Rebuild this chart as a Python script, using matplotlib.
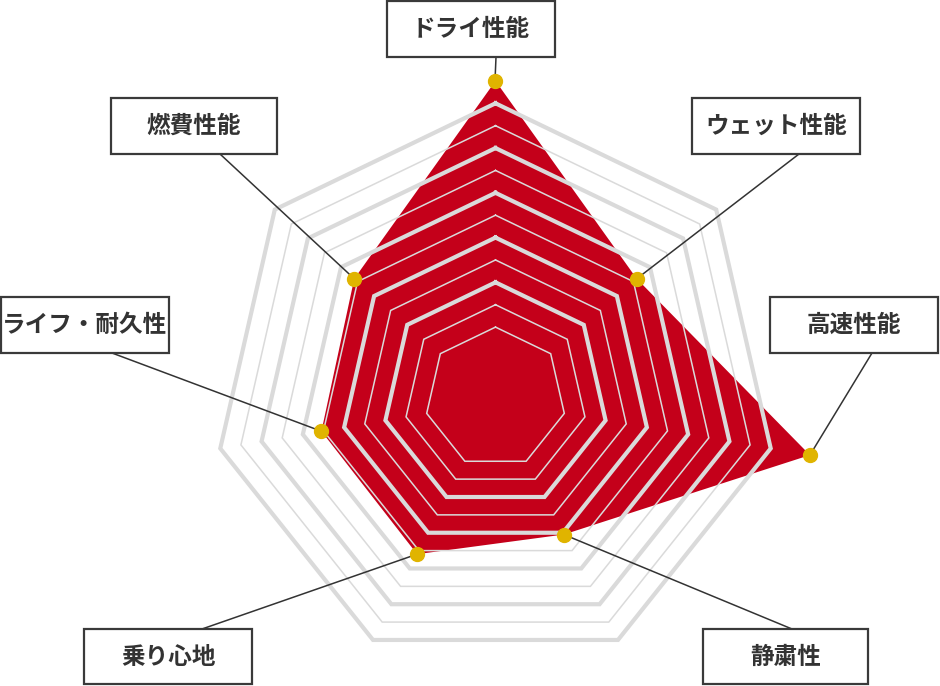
import numpy as np
import matplotlib
matplotlib.use("Agg")
import matplotlib.pyplot as plt
from matplotlib.patches import Rectangle

# Dati (in senso orario partendo dall'alto), livelli 0-10 della griglia
labels = ["ドライ性能", "ウェット性能", "高速性能", "静粛性", "乗り心地", "ライフ・耐久性", "燃費性能"]
values = [11.0, 5.2, 11.9, 4.1, 5.2, 5.1, 5.2]

# Livelli della griglia (dall'interno verso l'esterno) e quali sono spessi
rings = [0, 1, 2, 3, 4, 5, 6, 7, 8, 9, 10]
ring_thick = [False, False, True, False, True, False, True, False, True, False, True]

# Riquadri delle etichette (x0, y0, x1, y1) e punto di attacco della linea, in pixel
boxes = [(387, 1, 555, 57), (692, 98, 860, 154), (770, 297, 938, 353),
         (703, 629, 868, 684), (84, 629, 252, 684), (1, 297, 169, 353),
         (111, 98, 277, 154)]
anchors = [(495.5, 57), (799, 154), (872, 353), (792, 629),
           (202, 629), (112, 353), (220, 154)]

W, H = 940, 686
fig = plt.figure(figsize=(W / 100, H / 100), dpi=100)

# Geometria: eptagono esterno di raggio 1, centro scalato (P) un po' sotto
cx, cy = 495.5, 401.7   # pixel del centro P
scale = 282.3           # pixel per unita'
off = 0.057             # spostamento del centro dell'eptagono sopra P
base, step = 0.25, 0.075  # frazione per il livello 0 e per ogni livello

ax = fig.add_axes([0, 0, 1, 1], zorder=1)
ax.set_xlim(-cx / scale, (W - cx) / scale)
ax.set_ylim(-(H - cy) / scale, cy / scale)
ax.set_axis_off()

n = len(labels)
theta = np.linspace(0, 2 * np.pi, n, endpoint=False)
vx = np.sin(theta)
vy = np.cos(theta) + off


def radar_xy(levels):
    f = base + step * np.asarray(levels, dtype=float)
    x, y = f * vx, f * vy
    return np.append(x, x[0]), np.append(y, y[0])


px, py = radar_xy(values)
ax.fill(px, py, color="#c4001a", lw=0, zorder=2)

for lev, thick in zip(rings, ring_thick):
    rx, ry = radar_xy([lev] * n)
    ax.plot(rx, ry, color="#dadada", lw=3.0 if thick else 1.1,
            zorder=3, solid_joinstyle="miter")

# Assi in pixel per riquadri e testi
ov = fig.add_axes([0, 0, 1, 1], zorder=2)
ov.set_xlim(0, W)
ov.set_ylim(H, 0)
ov.set_axis_off()
ov.patch.set_alpha(0)

# Linee guida dai punti ai riquadri
for i in range(n):
    bx, by = ax.transData.inverted().transform(ov.transData.transform(anchors[i]))
    ax.plot([px[i], bx], [py[i], by], color="#333333", lw=1.1, zorder=4)

ax.plot(px[:-1], py[:-1], "o", color="#e0b400", markersize=10, zorder=5)

for lab, (x0, y0, x1, y1) in zip(labels, boxes):
    ov.add_patch(Rectangle((x0, y0), x1 - x0, y1 - y0, facecolor="white",
                           edgecolor="#3a3a3a", lw=1.6))
    ov.text((x0 + x1) / 2, (y0 + y1) / 2, lab, ha="center", va="center",
            fontsize=17, fontweight="bold", color="#333333",
            family=["Noto Sans CJK JP", "DejaVu Sans"])

fig.savefig("out.png", dpi=100)
